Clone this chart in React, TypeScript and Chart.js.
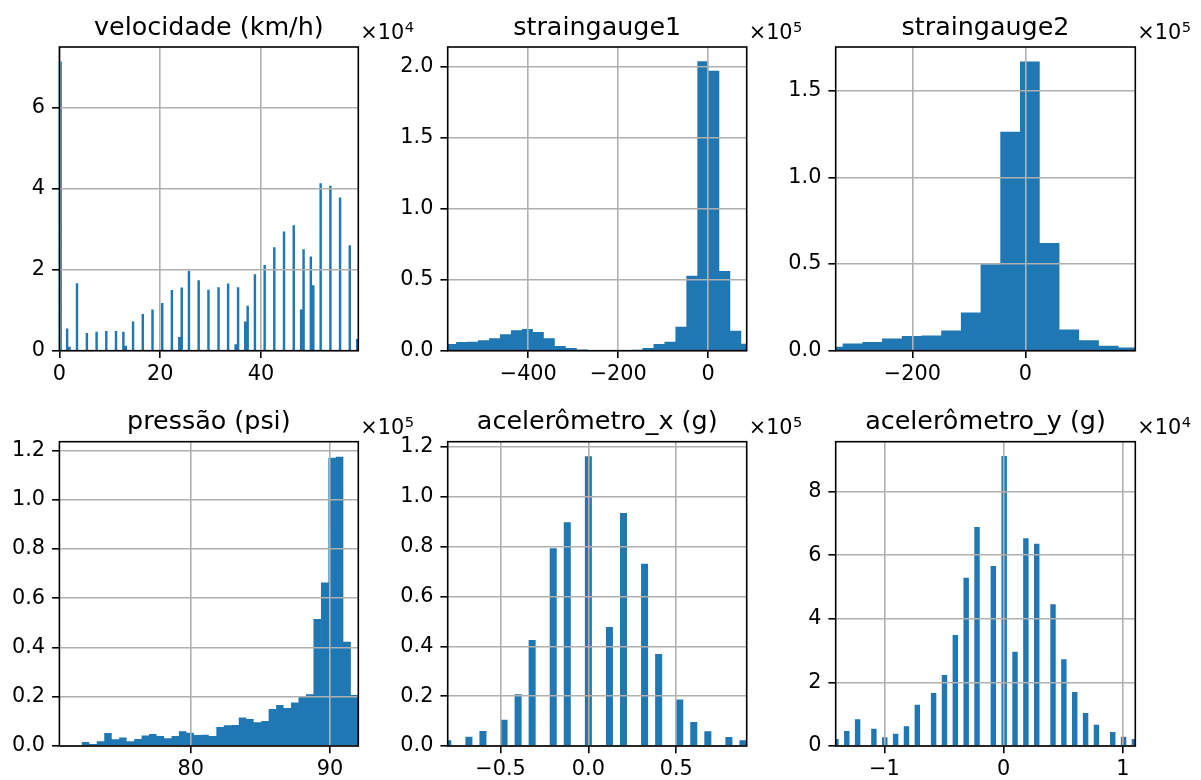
import React, { useEffect, useRef } from "react";
import { Chart, registerables } from "chart.js";

Chart.register(...registerables);

const W = 1201;
const H = 780;
const CANVAS_H = 830;
const FONT = "'DejaVu Sans', 'Liberation Sans', sans-serif";
const BAR = "#1f77b4";
const GRID = "#b0b0b0";
const LW = 1.6;
const TICK_LEN = 7.3;

// ---------- velocidade (km/h) : counts in units of 1e4 ----------
const velLeft = [0.0, 1.29, 1.78, 3.25, 5.21, 7.14, 9.06, 10.99, 12.45, 12.94, 14.37, 16.3, 18.23, 20.16, 22.07, 23.54, 24.03, 25.46, 27.39, 29.33, 31.33, 33.23, 34.72, 35.21, 36.62, 37.11, 38.55, 40.48, 42.39, 44.32, 46.25, 47.71, 48.2, 49.64, 50.13, 51.59, 53.52, 55.44, 57.37, 58.83];
const velCounts = [7.15, 0.55, 0.1, 1.67, 0.44, 0.47, 0.49, 0.49, 0.47, 0.12, 0.72, 0.91, 1.02, 1.18, 1.5, 0.34, 1.56, 1.98, 1.74, 1.51, 1.57, 1.66, 0.16, 1.57, 0.72, 1.11, 1.89, 2.12, 2.56, 2.95, 3.1, 1.02, 2.51, 2.33, 1.62, 4.14, 4.08, 3.79, 2.61, 0.29];
const velBinWidth = 0.485;
const velXRange = [0, 59.3];
const velYMax = 7.51;
const velXTicks = [0, 20, 40];
const velXTickLabels = ["0", "20", "40"];
const velYTicks = [0, 2, 4, 6];
const velYTickLabels = ["0", "2", "4", "6"];

// ---------- straingauge1 : counts in units of 1e5 ----------
const sg1Left = [-584.8, -560.4, -536.0, -511.6, -487.3, -462.9, -438.5, -414.1, -389.8, -365.4, -341.0, -316.6, -292.3, -267.9, -243.5, -219.1, -194.7, -170.4, -146.0, -121.6, -97.2, -72.9, -48.5, -24.1, 0.3, 24.7, 49.1, 73.5];
const sg1Counts = [0.047, 0.061, 0.063, 0.073, 0.087, 0.115, 0.143, 0.152, 0.131, 0.087, 0.033, 0.019, 0.009, 0.005, 0.002, 0.002, 0.003, 0.007, 0.019, 0.047, 0.063, 0.169, 0.527, 2.035, 1.969, 0.56, 0.141, 0.049];
const sg1BinWidth = 24.38;
const sg1XRange = [-579.1, 85.6];
const sg1YMax = 2.136;
const sg1XTicks = [-400, -200, 0];
const sg1XTickLabels = ["\u2212400", "\u2212200", "0"];
const sg1YTicks = [0, 0.5, 1.0, 1.5, 2.0];
const sg1YTickLabels = ["0.0", "0.5", "1.0", "1.5", "2.0"];

// ---------- straingauge2 : counts in units of 1e5 ----------
const sg2Left = [-358.2, -323.3, -288.4, -253.6, -218.7, -183.8, -148.9, -114.1, -79.2, -44.3, -9.4, 25.5, 60.4, 95.3, 130.2, 165.1];
const sg2Counts = [0.023, 0.042, 0.05, 0.071, 0.085, 0.088, 0.117, 0.221, 0.498, 1.263, 1.669, 0.621, 0.123, 0.06, 0.029, 0.019];
const sg2BinWidth = 34.89;
const sg2XRange = [-335.7, 194.7];
const sg2YMax = 1.752;
const sg2XTicks = [-200, 0];
const sg2XTickLabels = ["\u2212200", "0"];
const sg2YTicks = [0, 0.5, 1.0, 1.5];
const sg2YTickLabels = ["0.0", "0.5", "1.0", "1.5"];

// ---------- pressão (psi) : counts in units of 1e5 ----------
const presLeft = [70.57, 71.11, 71.64, 72.18, 72.72, 73.25, 73.79, 74.33, 74.86, 75.4, 75.94, 76.47, 77.01, 77.55, 78.08, 78.62, 79.15, 79.69, 80.23, 80.76, 81.3, 81.84, 82.37, 82.91, 83.45, 83.98, 84.52, 85.06, 85.59, 86.13, 86.67, 87.2, 87.74, 88.28, 88.81, 89.35, 89.88, 90.42, 90.96, 91.49];
const presCounts = [0.001, 0.001, 0.003, 0.016, 0.008, 0.019, 0.053, 0.027, 0.035, 0.019, 0.028, 0.043, 0.049, 0.041, 0.031, 0.041, 0.06, 0.054, 0.045, 0.046, 0.041, 0.077, 0.084, 0.085, 0.116, 0.11, 0.096, 0.101, 0.15, 0.166, 0.154, 0.177, 0.199, 0.21, 0.515, 0.664, 1.17, 1.174, 0.423, 0.207];
const presBinWidth = 0.5365;
const presXRange = [70.57, 92.03];
const presYMax = 1.235;
const presXTicks = [80, 90];
const presXTickLabels = ["80", "90"];
const presYTicks = [0, 0.2, 0.4, 0.6, 0.8, 1.0, 1.2];
const presYTickLabels = ["0.0", "0.2", "0.4", "0.6", "0.8", "1.0", "1.2"];

// ---------- acelerômetro_x (g) : counts in units of 1e5 ----------
const axLeft = [-0.82, -0.7, -0.62, -0.5, -0.42, -0.34, -0.22, -0.14, -0.02, 0.1, 0.18, 0.3, 0.38, 0.5, 0.58, 0.66, 0.78, 0.86];
const axCounts = [0.023, 0.037, 0.06, 0.105, 0.208, 0.425, 0.793, 0.898, 1.163, 0.477, 0.935, 0.731, 0.369, 0.187, 0.096, 0.059, 0.036, 0.023];
const axBinWidth = 0.04;
const axXRange = [-0.8006, 0.9012];
const axYMax = 1.221;
const axXTicks = [-0.5, 0, 0.5];
const axXTickLabels = ["\u22120.5", "0.0", "0.5"];
const axYTicks = [0, 0.2, 0.4, 0.6, 0.8, 1.0, 1.2];
const axYTickLabels = ["0.0", "0.2", "0.4", "0.6", "0.8", "1.0", "1.2"];

// ---------- acelerômetro_y (g) : counts in units of 1e4 ----------
const ayLeft = [-1.429, -1.338, -1.247, -1.1105, -1.0195, -0.9285, -0.8375, -0.7465, -0.61, -0.519, -0.428, -0.337, -0.246, -0.1095, -0.0185, 0.0725, 0.1635, 0.2545, 0.391, 0.482, 0.573, 0.664, 0.755, 0.8915, 0.9825, 1.0735];
const ayCounts = [0.22, 0.47, 0.84, 0.545, 0.273, 0.388, 0.619, 1.3, 1.667, 2.233, 3.49, 5.295, 6.889, 5.662, 9.122, 2.967, 6.533, 6.365, 4.456, 2.726, 1.699, 1.038, 0.671, 0.44, 0.294, 0.22];
const ayBinWidth = 0.0455;
const ayXRange = [-1.408, 1.1034];
const ayYMax = 9.573;
const ayXTicks = [-1, 0, 1];
const ayXTickLabels = ["\u22121", "0", "1"];
const ayYTicks = [0, 2, 4, 6, 8];
const ayYTickLabels = ["0", "2", "4", "6", "8"];

type PanelDef = {
  title: string;
  exp: string;
  left: number[];
  counts: number[];
  binWidth: number;
  xRange: number[];
  yMax: number;
  xTicks: number[];
  xTickLabels: string[];
  yTicks: number[];
  yTickLabels: string[];
  box: { l: number; t: number; r: number; b: number };
};

const panels: PanelDef[] = [
  { title: "velocidade (km/h)", exp: "4", left: velLeft, counts: velCounts, binWidth: velBinWidth, xRange: velXRange, yMax: velYMax, xTicks: velXTicks, xTickLabels: velXTickLabels, yTicks: velYTicks, yTickLabels: velYTickLabels, box: { l: 59.4, t: 47, r: 358.3, b: 350.7 } },
  { title: "straingauge1", exp: "5", left: sg1Left, counts: sg1Counts, binWidth: sg1BinWidth, xRange: sg1XRange, yMax: sg1YMax, xTicks: sg1XTicks, xTickLabels: sg1XTickLabels, yTicks: sg1YTicks, yTickLabels: sg1YTickLabels, box: { l: 447.7, t: 47, r: 746.7, b: 350.7 } },
  { title: "straingauge2", exp: "5", left: sg2Left, counts: sg2Counts, binWidth: sg2BinWidth, xRange: sg2XRange, yMax: sg2YMax, xTicks: sg2XTicks, xTickLabels: sg2XTickLabels, yTicks: sg2YTicks, yTickLabels: sg2YTickLabels, box: { l: 835.7, t: 47, r: 1135.3, b: 350.7 } },
  { title: "pressão (psi)", exp: "5", left: presLeft, counts: presCounts, binWidth: presBinWidth, xRange: presXRange, yMax: presYMax, xTicks: presXTicks, xTickLabels: presXTickLabels, yTicks: presYTicks, yTickLabels: presYTickLabels, box: { l: 59.4, t: 441.7, r: 358.3, b: 746 } },
  { title: "acelerômetro_x (g)", exp: "5", left: axLeft, counts: axCounts, binWidth: axBinWidth, xRange: axXRange, yMax: axYMax, xTicks: axXTicks, xTickLabels: axXTickLabels, yTicks: axYTicks, yTickLabels: axYTickLabels, box: { l: 447.7, t: 441.7, r: 746.7, b: 746 } },
  { title: "acelerômetro_y (g)", exp: "4", left: ayLeft, counts: ayCounts, binWidth: ayBinWidth, xRange: ayXRange, yMax: ayYMax, xTicks: ayXTicks, xTickLabels: ayXTickLabels, yTicks: ayYTicks, yTickLabels: ayYTickLabels, box: { l: 835.7, t: 441.7, r: 1135.3, b: 746 } },
];

const Y_AXIS_W = 55;
const X_AXIS_H = 45;

function histogramOutline(p: PanelDef) {
  const pts: { x: number; y: number }[] = [];
  p.left.forEach((l, i) => {
    const r = l + p.binWidth;
    const c = p.counts[i];
    pts.push({ x: l, y: 0 }, { x: l, y: c }, { x: r, y: c }, { x: r, y: 0 });
  });
  return pts;
}

function framePlugin(p: PanelDef) {
  return {
    id: "frame",
    beforeDatasetsDraw(chart: any) {
      const { ctx, chartArea: a } = chart;
      ctx.save();
      ctx.beginPath();
      ctx.rect(a.left, a.top, a.right - a.left, a.bottom - a.top);
      ctx.clip();
    },
    afterDatasetsDraw(chart: any) {
      chart.ctx.restore();
    },
    afterDraw(chart: any) {
      const { ctx, chartArea: a } = chart;
      ctx.save();
      ctx.strokeStyle = "#000";
      ctx.lineWidth = LW;
      ctx.strokeRect(a.left, a.top, a.right - a.left, a.bottom - a.top);
      ctx.fillStyle = "#000";
      ctx.font = `25.4px ${FONT}`;
      ctx.textAlign = "center";
      ctx.textBaseline = "alphabetic";
      ctx.fillText(p.title, (a.left + a.right) / 2, a.top - 12.5);
      ctx.textAlign = "left";
      ctx.font = `20.8px ${FONT}`;
      const base = a.top - 8;
      let x = a.right + 2;
      ctx.fillText("\u00d710", x, base);
      x += ctx.measureText("\u00d710").width;
      ctx.font = `14.6px ${FONT}`;
      ctx.fillText(p.exp, x + 0.5, base - 7);
      ctx.restore();
    },
  };
}

function makeScale(ticks: number[], labels: string[], min: number, max: number, horizontal: boolean): any {
  return {
    type: "linear",
    min,
    max,
    bounds: "data",
    afterBuildTicks: (axis: any) => {
      axis.ticks = ticks.map((v) => ({ value: v }));
    },
    afterFit: (axis: any) => {
      if (horizontal) axis.height = X_AXIS_H;
      else axis.width = Y_AXIS_W;
    },
    grid: {
      color: GRID,
      lineWidth: LW,
      drawTicks: true,
      tickLength: TICK_LEN,
      tickColor: "#000",
      tickWidth: LW,
      z: 1,
    },
    border: { display: false },
    ticks: {
      z: 1,
      color: "#000",
      font: { family: FONT, size: 20.8 },
      padding: horizontal ? 4 : 7,
      autoSkip: false,
      maxRotation: 0,
      minRotation: 0,
      callback: (_v: any, i: number) => labels[i],
    },
  };
}

function PanelChart({ p }: { p: PanelDef }) {
  const ref = useRef<HTMLCanvasElement | null>(null);
  useEffect(() => {
    if (!ref.current) return;
    const chart = new Chart(ref.current, {
      type: "line",
      data: {
        datasets: [
          {
            data: histogramOutline(p),
            fill: "origin",
            backgroundColor: BAR,
            borderColor: "rgba(0,0,0,0)",
            borderWidth: 0,
            pointRadius: 0,
            pointHoverRadius: 0,
            tension: 0,
          },
        ],
      },
      options: {
        animation: false,
        responsive: false,
        events: [],
        layout: {
          padding: {
            left: p.box.l - Y_AXIS_W,
            top: p.box.t,
            right: W - p.box.r,
            bottom: CANVAS_H - p.box.b - X_AXIS_H,
          },
        },
        plugins: {
          legend: { display: false },
          title: { display: false },
          tooltip: { enabled: false },
        },
        scales: {
          x: makeScale(p.xTicks, p.xTickLabels, p.xRange[0], p.xRange[1], true),
          y: makeScale(p.yTicks, p.yTickLabels, 0, p.yMax, false),
        },
      } as any,
      plugins: [framePlugin(p)],
    });
    return () => chart.destroy();
  }, [p]);
  return (
    <canvas
      ref={ref}
      width={W}
      height={CANVAS_H}
      style={{ position: "absolute", left: 0, top: 0, width: W, height: CANVAS_H }}
    />
  );
}

export default function App() {
  return (
    <div
      style={{
        position: "fixed",
        left: 0,
        top: 0,
        width: W,
        height: H,
        background: "#fff",
        overflow: "hidden",
      }}
    >
      {panels.map((p, i) => (
        <PanelChart key={i} p={p} />
      ))}
    </div>
  );
}
